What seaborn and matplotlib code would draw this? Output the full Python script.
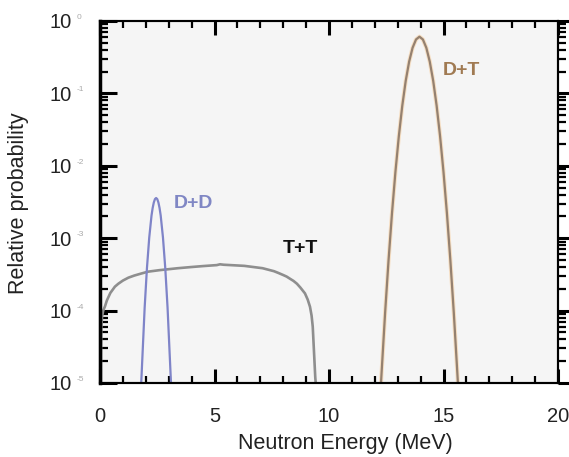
import matplotlib
matplotlib.use("Agg")
import matplotlib.pyplot as plt
import seaborn as sns
import numpy as np
import pandas as pd
from matplotlib.ticker import LogLocator, MultipleLocator, FixedLocator, FixedFormatter, NullFormatter

# ---- data ----
dd_energy = [1.8, 1.95, 2.05, 2.15, 2.25, 2.3, 2.35, 2.4, 2.45, 2.5, 2.55, 2.6, 2.65, 2.75, 2.85, 2.95, 3.1]
dd_prob = [1.0e-5, 1.10e-4, 3.86e-4, 1.02e-3, 2.06e-3, 2.62e-3, 3.12e-3, 3.47e-3, 3.59e-3,
           3.47e-3, 3.12e-3, 2.62e-3, 2.06e-3, 1.02e-3, 3.86e-4, 1.10e-4, 1.0e-5]

dt_energy = [12.27, 12.45, 12.6, 12.75, 12.9, 13.05, 13.2, 13.35, 13.5, 13.65, 13.8, 13.95,
             14.1, 14.25, 14.4, 14.55, 14.7, 14.85, 15.0, 15.15, 15.3, 15.45, 15.63]
dt_prob = [1.0e-5, 9.3e-5, 4.94e-4, 2.2e-3, 8.2e-3, 2.57e-2, 6.76e-2, 0.149, 0.275, 0.427, 0.556, 0.607,
           0.556, 0.427, 0.275, 0.149, 6.76e-2, 2.57e-2, 8.2e-3, 2.2e-3, 4.94e-4, 9.3e-5, 1.0e-5]

tt_energy = [0.04, 0.045, 0.06, 0.09, 0.14, 0.22, 0.3, 0.45, 0.65, 0.8, 1.0, 1.24, 1.5, 1.8, 2.1,
             2.6, 3.4, 4.0, 4.5, 5.1, 5.24, 5.4, 6.3, 7.1, 7.6, 7.8, 8.0, 8.15, 8.3, 8.45, 8.6,
             8.75, 8.95, 9.07, 9.17, 9.24, 9.29, 9.34, 9.4, 9.42]
tt_prob = [1.0e-5, 3.0e-5, 6.0e-5, 8.3e-5, 1.0e-4, 1.15e-4, 1.38e-4, 1.75e-4, 2.14e-4, 2.35e-4,
           2.6e-4, 2.85e-4, 3.05e-4, 3.25e-4, 3.45e-4, 3.62e-4, 3.85e-4, 4.0e-4, 4.12e-4, 4.25e-4,
           4.36e-4, 4.3e-4, 4.15e-4, 3.85e-4, 3.5e-4, 3.3e-4, 3.1e-4, 2.95e-4, 2.75e-4, 2.57e-4,
           2.35e-4, 2.08e-4, 1.73e-4, 1.42e-4, 1.13e-4, 8.5e-5, 6.0e-5, 2.9e-5, 1.2e-5, 1.0e-5]

x_ticks = [0, 5, 10, 15, 20]
x_ticklabels = ["0", "5", "10", "15", "20"]
y_ticks = [1e-5, 1e-4, 1e-3, 1e-2, 1e-1, 1e0]
y_exponents = ["-5", "-4", "-3", "-2", "-1", "0"]

series_labels = ["D+D", "T+T", "D+T"]
label_pos_x = [4.1, 8.75, 15.8]
label_pos_y = [3.0e-3, 7.2e-4, 0.207]

dd_color = "#7f84c8"
dt_color = "#958170"
tt_color = "#8e8e8e"
label_colors = ["#8087c4", "#111111", "#a07a52"]

# ---- plotting ----
sns.set_style("ticks")
plt.rcParams["font.family"] = ["Liberation Sans", "DejaVu Sans"]

fig = plt.figure(figsize=(5.69, 4.57), dpi=100)
ax = fig.add_axes([100 / 569, (457 - 383) / 457, 458 / 569, 362 / 457])
ax.set_facecolor("#f5f5f5")

sns.lineplot(x=tt_energy, y=tt_prob, sort=False, estimator=None, color=tt_color, lw=1.9, ax=ax)
sns.lineplot(x=dd_energy, y=dd_prob, sort=False, estimator=None, color=dd_color, lw=1.6, ax=ax)
# faint orange halo then main line for D+T
sns.lineplot(x=dt_energy, y=dt_prob, sort=False, estimator=None, color="#f6dfc4", lw=3.0, ax=ax)
sns.lineplot(x=dt_energy, y=dt_prob, sort=False, estimator=None, color=dt_color, lw=1.6, ax=ax)

ax.set_yscale("log")
ax.set_xlim(0, 20)
ax.set_ylim(1e-5, 1e0)

for lab, lx, ly, lc in zip(series_labels, label_pos_x, label_pos_y, label_colors):
    ax.text(lx, ly, lab, color=lc, fontsize=14, fontweight="bold", ha="center", va="center")

# x ticks
ax.xaxis.set_major_locator(FixedLocator(x_ticks))
ax.xaxis.set_major_formatter(FixedFormatter(x_ticklabels))
ax.xaxis.set_minor_locator(MultipleLocator(1))
ax.tick_params(axis="x", which="both", direction="in", top=True, bottom=True, color="black")
ax.tick_params(axis="x", which="major", length=10, width=2.2, pad=17, labelsize=14.5, labelcolor="#222222")
ax.tick_params(axis="x", which="minor", length=5, width=1.6)

# y ticks (left, inward)
ax.yaxis.set_major_locator(FixedLocator(y_ticks))
ax.yaxis.set_major_formatter(FixedFormatter(["10"] * len(y_ticks)))
ax.yaxis.set_minor_locator(LogLocator(base=10, subs=np.arange(2, 10)))
ax.yaxis.set_minor_formatter(NullFormatter())
ax.tick_params(axis="y", which="both", direction="in", left=True, right=False, color="black")
ax.tick_params(axis="y", which="major", length=12, width=2.2, pad=20, labelsize=14.5, labelcolor="#222222")
ax.tick_params(axis="y", which="minor", length=6, width=1.6)

for val, ex in zip(y_ticks, y_exponents):
    ax.annotate(ex, xy=(0, val), xycoords=("axes fraction", "data"),
                xytext=(-16.5, 2.5), textcoords="offset points",
                ha="left", va="center", fontsize=6, color="#aaaaaa")

# right axis with outward ticks
ax2 = ax.twinx()
ax2.set_yscale("log")
ax2.set_ylim(1e-5, 1e0)
ax2.yaxis.set_major_locator(FixedLocator(y_ticks))
ax2.yaxis.set_minor_locator(LogLocator(base=10, subs=np.arange(2, 10)))
ax2.yaxis.set_major_formatter(NullFormatter())
ax2.yaxis.set_minor_formatter(NullFormatter())
ax2.tick_params(axis="y", which="both", direction="out", right=True, left=False, color="black")
ax2.tick_params(axis="y", which="major", length=9, width=2.2)
ax2.tick_params(axis="y", which="minor", length=6, width=1.6)

for a in (ax, ax2):
    for side in ["left", "right", "top", "bottom"]:
        a.spines[side].set_visible(True)
        a.spines[side].set_linewidth(1.5)
        a.spines[side].set_color("black")
ax.spines["left"].set_linewidth(2.5)
ax.spines["top"].set_color("#444444")

ax.set_xlabel("Neutron Energy (MeV)", fontsize=15.5, color="#222222")
ax.set_ylabel("Relative probability", fontsize=15.5, color="#222222")
ax.xaxis.set_label_coords(245 / 458, -0.138)
ax.yaxis.set_label_coords(-71 / 458, 0.497)

fig.savefig("out.png", dpi=100, facecolor="white")
